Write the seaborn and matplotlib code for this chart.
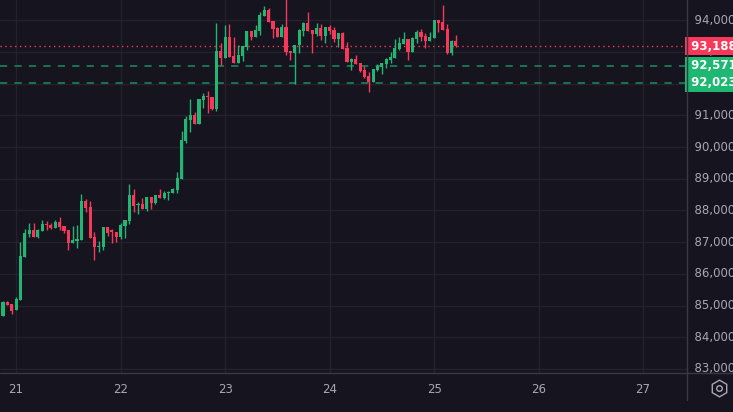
import numpy as np
import pandas as pd
import seaborn as sns
import matplotlib.pyplot as plt
from matplotlib.lines import Line2D

# hourly candles, first one at 20th 21:00
opens = [84665, 85103, 85040, 84853, 85165, 86540, 87259, 87384, 87165, 87363,
         87571, 87540, 87446, 87634, 87509, 87384, 86978, 87040, 87072, 88290,
         88103, 87165, 86853, 86853, 87478, 87384, 87321, 87165, 87509, 87665,
         88478, 88165, 88196, 88040, 88415, 88228, 88478, 88384, 88540, 88540,
         88634, 89009, 90196, 90853, 91009, 90728, 91478, 91603, 91571, 91196,
         93040, 92821, 93478, 92884, 92665, 92884, 93165, 93665, 93478, 93665,
         94134, 94321, 93978, 93759, 93478, 93790, 93040, 92978, 93228, 93665,
         93915, 93696, 93571, 93759, 93509, 93790, 93696, 93415, 93603, 93134,
         92696, 92790, 92665, 92446, 92228, 92040, 92446, 92540, 92634, 92759,
         92821, 93103, 93259, 93415, 93009, 93415, 93634, 93509, 93353, 93446,
         94009, 93946, 93728, 92978, 93353]
highs = [85155, 85155, 85040, 85259, 87009, 87415, 87603, 87603, 87405, 87686,
         87655, 87603, 87707, 87790, 87509, 87384, 87509, 87540, 88509, 88353,
         88290, 87321, 87040, 87478, 87478, 87415, 87321, 87603, 87696, 88822,
         88665, 88259, 88384, 88415, 88415, 88478, 88665, 88603, 88603, 88696,
         89228, 90509, 90978, 91509, 91103, 91509, 91696, 91759, 91571, 93915,
         93290, 93853, 93884, 93478, 93228, 93196, 93665, 93665, 93853, 94259,
         94446, 94384, 93978, 93790, 93884, 94660, 93040, 93228, 93728, 93946,
         94259, 93696, 93915, 93884, 93790, 93853, 93790, 93603, 93634, 93321,
         92821, 92915, 92665, 92571, 92384, 92478, 92634, 92665, 92821, 93009,
         93415, 93478, 93634, 93415, 93478, 93696, 93728, 93603, 93634, 94009,
         94009, 94478, 93884, 93384, 93540]
lows = [84665, 85019, 84738, 84853, 85165, 86540, 87176, 87176, 87134, 87363,
        87394, 87405, 87446, 87394, 87290, 86738, 86978, 86822, 87072, 87946,
        87134, 86446, 86696, 86759, 87197, 86978, 87009, 87103, 87134, 87571,
        87946, 87884, 88040, 87978, 88040, 88196, 88384, 88353, 88321, 88540,
        88540, 89009, 90134, 90478, 90728, 90728, 91228, 91071, 91165, 91134,
        92603, 92821, 92853, 92665, 92665, 92728, 93071, 93384, 93478, 93540,
        94134, 93946, 93446, 93478, 93478, 92915, 92759, 91978, 92978, 93509,
        93665, 92978, 93509, 93384, 93290, 93571, 93321, 93165, 93103, 92696,
        92446, 92634, 92353, 92165, 91728, 92040, 92415, 92321, 92509, 92665,
        92821, 93071, 93259, 92759, 93009, 93290, 93353, 93134, 93353, 93446,
        93634, 93696, 92946, 92915, 93165]
closes = [85103, 85019, 84842, 85196, 86571, 87290, 87384, 87176, 87374, 87571,
          87530, 87446, 87634, 87478, 87353, 86978, 87072, 87103, 88290, 88071,
          87134, 86853, 86884, 87478, 87290, 87321, 87165, 87540, 87696, 88478,
          88134, 88196, 88040, 88415, 88228, 88478, 88384, 88540, 88571, 88665,
          89040, 90228, 90884, 91009, 90728, 91509, 91603, 91571, 91196, 93040,
          92821, 93478, 92853, 92665, 92915, 93196, 93665, 93478, 93696, 94165,
          94321, 93946, 93728, 93478, 93790, 93009, 92978, 93228, 93696, 93915,
          93665, 93571, 93759, 93509, 93790, 93665, 93415, 93603, 93103, 92696,
          92790, 92634, 92415, 92196, 92040, 92478, 92571, 92665, 92790, 92853,
          93134, 93290, 93415, 93009, 93446, 93634, 93478, 93353, 93478, 94009,
          93915, 93696, 92978, 93353, 93188]

price_ticks = [83000, 84000, 85000, 86000, 87000, 88000, 89000, 90000,
               91000, 92000, 93000, 94000]
day_ticks = [21, 22, 23, 24, 25, 26, 27]
last_price = 93188
level_prices = [92571, 92023]

BG = '#16141e'
GRID = '#24222d'
UP = '#22b573'
DOWN = '#f7385a'
TXT = '#a8a8b3'

df = pd.DataFrame({'open': opens, 'high': highs, 'low': lows, 'close': closes})
df['t'] = 20 + 21 / 24 + np.arange(len(df)) / 24
df['up'] = df['close'] >= df['open']
df['color'] = np.where(df['up'], UP, DOWN)

sns.set_theme(style='dark')
plt.rcParams['font.family'] = ['DejaVu Sans']

fig = plt.figure(figsize=(7.33, 4.12), dpi=100, facecolor=BG)
ax = fig.add_axes([0, 1 - 372.7 / 412, 687 / 733, 372.7 / 412])
ax.set_facecolor(BG)

for p in price_ticks:
    ax.axhline(p, color=GRID, lw=1, zorder=0)
for d in day_ticks:
    ax.axvline(d, color=GRID, lw=1, zorder=0)

w = 1 / 24 * 0.72
ax.vlines(df['t'], df['low'], df['high'], colors=df['color'], lw=1, zorder=2)
body = (df['close'] - df['open']).abs().clip(lower=25)
ax.bar(df['t'], body, bottom=df[['open', 'close']].min(axis=1), width=w,
       color=df['color'], lw=0, zorder=3)

ax.axhline(last_price, color=DOWN, lw=1, ls=(0, (1, 2.5)), zorder=1)
for lp in level_prices:
    ax.axhline(lp, color='#1b7a55', lw=1.3, ls=(0, (4, 4)), zorder=1)

ax.set_xlim(20 + 0.846, 20.846 + 687 / 104.5)
ax.set_ylim(82883, 94640)
ax.set_xticks([])
ax.set_yticks([])
for s in ax.spines.values():
    s.set_visible(False)

# right price scale
for p in price_ticks:
    ax.text(1.0, p, '  ' + f'{p:,.2f}', transform=ax.get_yaxis_transform(),
            color=TXT, fontsize=8.5, va='center', ha='left', clip_on=False)
ax.text(1.0, last_price, ' ' + f'{last_price:,.2f}', transform=ax.get_yaxis_transform(),
        color='white', fontsize=8.5, fontweight='bold', va='center', ha='left',
        clip_on=False, zorder=5,
        bbox=dict(boxstyle='square,pad=0.18', fc=DOWN, ec='none'))
for lp in level_prices:
    ax.text(1.0, lp, ' ' + f'{lp:,.2f}', transform=ax.get_yaxis_transform(),
            color='white', fontsize=8.5, fontweight='bold', va='center', ha='left',
            clip_on=False, zorder=5,
            bbox=dict(boxstyle='square,pad=0.18', fc='#1fb872', ec='none'))

# bottom time scale
for d in day_ticks:
    ax.text(d, -0.045, str(d), transform=ax.get_xaxis_transform(), color=TXT,
            fontsize=8.5, ha='center', va='center', clip_on=False)

fig.add_artist(Line2D([0, 1], [1 - 372.7 / 412] * 2, transform=fig.transFigure,
                      color='#3a3845', lw=1))
fig.add_artist(Line2D([687 / 733] * 2, [1 - 400 / 412, 1], transform=fig.transFigure,
                      color='#3a3845', lw=1))
fig.add_artist(Line2D([719 / 733], [1 - 388 / 412], transform=fig.transFigure,
                      marker='h', ms=12, mfc='none', mec=TXT, mew=1, ls='none'))
fig.add_artist(Line2D([719 / 733], [1 - 388 / 412], transform=fig.transFigure,
                      marker='o', ms=4, mfc='none', mec=TXT, mew=1, ls='none'))

fig.savefig('out.png', dpi=100, facecolor=BG)
